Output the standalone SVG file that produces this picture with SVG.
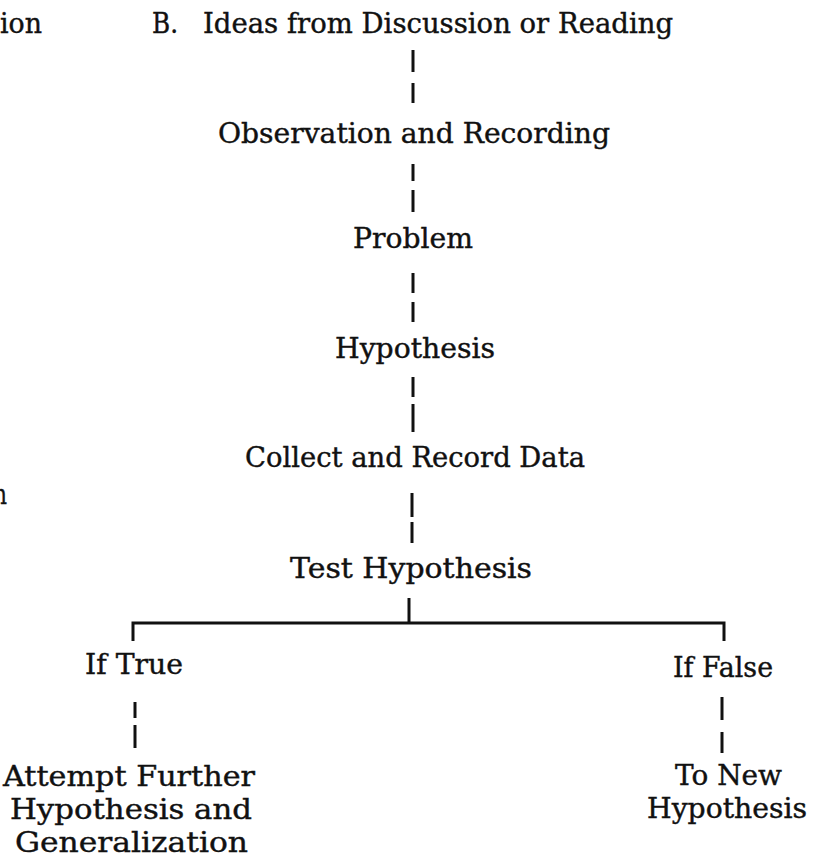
<svg xmlns="http://www.w3.org/2000/svg" width="822" height="861" viewBox="0 0 822 861">
<style>
  text { font-family: "DejaVu Serif", "Liberation Serif", serif; font-size: 27px; fill: #111; stroke: #111; stroke-width: 0.4; }
  .ln { stroke: #111; stroke-width: 3; fill: none; }
</style>
<rect width="822" height="861" fill="#ffffff"/>
<g id="connectors">
  <line class="ln" x1="413" y1="50" x2="413" y2="72"/>
  <line class="ln" x1="413" y1="83" x2="413" y2="103"/>
  <line class="ln" x1="413" y1="164" x2="413" y2="181"/>
  <line class="ln" x1="413" y1="190" x2="413" y2="212"/>
  <line class="ln" x1="413" y1="273" x2="413" y2="293"/>
  <line class="ln" x1="413" y1="302" x2="413" y2="322"/>
  <line class="ln" x1="413" y1="377" x2="413" y2="397"/>
  <line class="ln" x1="413" y1="404" x2="413" y2="432"/>
  <line class="ln" x1="412" y1="493" x2="412" y2="517"/>
  <line class="ln" x1="412" y1="522" x2="412" y2="543"/>
  <line class="ln" x1="409" y1="598" x2="409" y2="623"/>
  <polyline class="ln" points="133,641 133,623 724,623 724,641"/>
  <line class="ln" x1="135" y1="702" x2="135" y2="718"/>
  <line class="ln" x1="135" y1="725" x2="135" y2="748"/>
  <line class="ln" x1="722" y1="697" x2="722" y2="720"/>
  <line class="ln" x1="722" y1="732" x2="722" y2="753"/>
</g>
<g id="node-a-fragment"><text x="0" y="33" textLength="42" lengthAdjust="spacingAndGlyphs">ion</text></g>
<g id="node-ideas">
  <text x="152" y="33" textLength="26" lengthAdjust="spacingAndGlyphs">B.</text>
  <text x="203" y="33" textLength="470" lengthAdjust="spacingAndGlyphs">Ideas from Discussion or Reading</text>
</g>
<g id="node-observation"><text x="218" y="143" textLength="392" lengthAdjust="spacingAndGlyphs">Observation and Recording</text></g>
<g id="node-problem"><text x="353" y="248" textLength="120" lengthAdjust="spacingAndGlyphs">Problem</text></g>
<g id="node-hypothesis"><text x="335" y="358" textLength="160" lengthAdjust="spacingAndGlyphs">Hypothesis</text></g>
<g id="node-collect"><text x="245" y="467" textLength="340" lengthAdjust="spacingAndGlyphs">Collect and Record Data</text></g>
<g id="node-n-fragment"><text x="-7" y="504" textLength="14" lengthAdjust="spacingAndGlyphs">n</text></g>
<g id="node-test"><text x="290" y="578" textLength="242" lengthAdjust="spacingAndGlyphs">Test Hypothesis</text></g>
<g id="node-if-true"><text x="85" y="674" textLength="98" lengthAdjust="spacingAndGlyphs">If True</text></g>
<g id="node-if-false"><text x="673" y="677" textLength="100" lengthAdjust="spacingAndGlyphs">If False</text></g>
<g id="node-attempt">
  <text x="3" y="786" textLength="252" lengthAdjust="spacingAndGlyphs">Attempt Further</text>
  <text x="10" y="819" textLength="242" lengthAdjust="spacingAndGlyphs">Hypothesis and</text>
  <text x="15" y="852" textLength="233" lengthAdjust="spacingAndGlyphs">Generalization</text>
</g>
<g id="node-new">
  <text x="675" y="785" textLength="107" lengthAdjust="spacingAndGlyphs">To New</text>
  <text x="647" y="818" textLength="160" lengthAdjust="spacingAndGlyphs">Hypothesis</text>
</g>
</svg>
